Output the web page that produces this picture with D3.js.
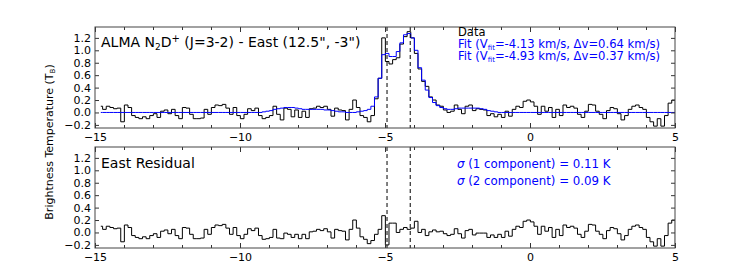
<!DOCTYPE html>
<html>
<head>
<meta charset="utf-8">
<script src="https://d3js.org/d3.v7.min.js"></script>
<style>
    body { margin: 0; background: #fff; }
    text { font-family: "DejaVu Sans", sans-serif; }
</style>
</head>
<body>
<script>
(function(){

    //channel grid of the spectrum (km/s)
    var chanStart = -14.8,
        chanWidth = 0.125;

    //observed spectrum, one value per channel (K)
    var dataT = [
        0.10, 0.05, 0.10, 0.08, 0.06, 0.07, -0.15, 0.12, 0.08, -0.05,
        -0.08, -0.10, -0.07, -0.10, -0.05, -0.02, -0.08, 0.02, 0.04, -0.02,
        0.05, -0.05, -0.10, 0.08, 0.07, -0.03, -0.10, -0.10, -0.09, 0.05,
        -0.03, 0.08, 0.12, 0.11, 0.13, 0.07, -0.03, 0.08, -0.05, -0.10,
        -0.03, 0.06, 0.03, 0.07, -0.05, -0.10, -0.08, -0.05, 0.10, -0.03,
        -0.12, 0.07, 0.05, -0.07, 0.04, -0.08, 0.02, -0.08, 0.06, 0.07,
        0.10, 0.08, 0.10, 0.05, -0.06, 0.07, 0.04, 0.03, -0.12, 0.05,
        0.20, 0.08, -0.05, -0.08, -0.15, -0.05, 0.22, 0.55, 1.20, 0.82,
        0.78, 0.85, 0.88, 1.10, 1.22, 1.30, 1.20, 0.95, 0.70, 0.50,
        0.42, 0.25, 0.20, 0.12, 0.10, 0.04, 0.00, 0.02, 0.12, 0.05,
        -0.02, 0.10, 0.12, 0.03, 0.06, 0.05, 0.04, -0.05, -0.02, -0.07,
        -0.03, -0.08, 0.02, -0.06, 0.05, 0.10, 0.08, 0.18, 0.20, 0.17,
        0.10, -0.03, 0.10, 0.02, 0.08, -0.08, 0.05, -0.05, 0.12, 0.08,
        0.10, 0.07, -0.03, -0.08, 0.02, 0.13, 0.12, 0.02, -0.03, -0.10,
        0.03, 0.08, 0.06, -0.02, -0.12, -0.05, 0.05, 0.10, 0.12, 0.08,
        0.05, -0.08, -0.15, -0.22, -0.10, -0.22, -0.05, 0.15, 0.20, -0.20
    ];

    //two component gaussian fit (with hyperfine bumps), per channel (K)
    var fitT = [
        0, 0, 0, 0, 0, 0, 0, 0, 0, 0,
        0, 0, 0, 0, 0, 0, 0, 0, 0, 0,
        0, 0, 0, 0, 0, 0, 0, 0, 0, 0,
        0, 0, 0, 0, 0, 0, 0, 0, 0, 0,
        0, 0, 0, 0, 0.00, 0.01, 0.02, 0.03, 0.05, 0.06,
        0.07, 0.08, 0.08, 0.08, 0.07, 0.06, 0.05, 0.05, 0.05, 0.05,
        0.05, 0.05, 0.04, 0.04, 0.03, 0.02, 0.01, 0.01, 0.00, 0.00,
        0.00, 0.01, 0.02, 0.03, 0.05, 0.10, 0.25, 0.55, 0.93, 0.95,
        0.90, 0.90, 0.98, 1.12, 1.25, 1.27, 1.20, 1.00, 0.72, 0.52,
        0.36, 0.24, 0.16, 0.11, 0.08, 0.06, 0.05, 0.05, 0.06, 0.07,
        0.07, 0.07, 0.07, 0.07, 0.07, 0.06, 0.05, 0.03, 0.02, 0.01,
        0, 0, 0, 0, 0, 0, 0, 0, 0, 0,
        0, 0, 0, 0, 0, 0, 0, 0, 0, 0,
        0, 0, 0, 0, 0, 0, 0, 0, 0, 0,
        0, 0, 0, 0, 0, 0, 0, 0, 0, 0,
        0, 0, 0, 0, 0, 0, 0, 0, 0, 0
    ];

    //residual after the two component fit, per channel (K)
    var residT = [
        0.10, 0.05, 0.10, 0.08, 0.06, 0.07, -0.15, 0.12, 0.08, -0.05,
        -0.08, -0.10, -0.07, -0.10, -0.05, -0.02, -0.08, 0.02, 0.04, -0.02,
        0.05, -0.05, -0.10, 0.08, 0.07, -0.03, -0.10, -0.10, -0.09, 0.05,
        -0.03, 0.08, 0.12, 0.11, 0.13, 0.07, -0.03, 0.08, -0.05, -0.10,
        -0.03, 0.06, 0.03, 0.07, -0.05, -0.11, -0.10, -0.08, 0.05, -0.09,
        -0.10, -0.01, -0.03, -0.08, -0.03, -0.10, -0.03, -0.10, 0.01, 0.02,
        0.05, 0.03, 0.06, 0.01, -0.09, 0.05, 0.03, 0.02, -0.12, 0.05,
        0.20, 0.07, -0.07, -0.11, -0.18, -0.13, -0.03, 0.05, 0.27, -0.20,
        0.15, 0.15, 0.00, 0.05, 0.08, 0.05, 0.07, 0.18, 0.00, 0.05,
        -0.05, 0.01, 0.04, 0.01, 0.02, -0.02, -0.05, -0.03, 0.06, -0.02,
        -0.09, 0.03, 0.05, -0.04, -0.01, -0.01, -0.01, -0.08, -0.04, -0.08,
        -0.03, -0.08, 0.02, -0.06, 0.05, 0.10, 0.08, 0.18, 0.20, 0.17,
        0.10, -0.03, 0.10, 0.02, 0.08, -0.08, 0.05, -0.05, 0.12, 0.08,
        0.10, 0.07, -0.03, -0.08, 0.02, 0.13, 0.12, 0.02, -0.03, -0.10,
        0.03, 0.08, 0.06, -0.02, -0.12, -0.05, 0.05, 0.10, 0.12, 0.08,
        0.05, -0.08, -0.15, -0.22, -0.10, -0.22, -0.05, 0.15, 0.20, -0.20
    ];

    //fitted line centres (km/s)
    var fitCentres = [-4.93, -4.13];

    //tick values
    var xTicks = [-15, -10, -5, 0, 5];
    var xMinorTicks = [-14, -13, -12, -11, -9, -8, -7, -6, -4, -3, -2, -1, 1, 2, 3, 4];
    var yTicks = [-0.2, 0.0, 0.2, 0.4, 0.6, 0.8, 1.0, 1.2];

    //legend and annotation texts
    var legendFits = [
        {v: "-4.13", dv: "0.64"},
        {v: "-4.93", dv: "0.37"}
    ];
    var sigmaLines = ["(1 component) = 0.11 K", "(2 component) = 0.09 K"];

    //frame dimensions
    var width = 750,
        height = 277,
        left = 95,
        right = 675,
        panelH = 101,
        panelTops = [27, 147];

    var svg = d3.select("body")
        .append("svg")
        .attr("width", width)
        .attr("height", height);

    var x = d3.scaleLinear()
        .domain([-15, 5])
        .range([left, right]);

    //velocity of each channel
    function chanV(i){
        return chanStart + i * chanWidth;
    };

    //draw one panel with its axes and step spectra
    function setPanel(top, series){
        var y = d3.scaleLinear()
            .domain([-0.25, 1.375])
            .range([top + panelH, top]);

        var g = svg.append("g");

        //clip the spectra to the frame
        var clipId = "clip" + top;
        svg.append("clipPath")
            .attr("id", clipId)
            .append("rect")
            .attr("x", left)
            .attr("y", top)
            .attr("width", right - left)
            .attr("height", panelH);

        var line = d3.line()
            .x(function(d, i){ return x(chanV(i)); })
            .y(function(d){ return y(d); })
            .curve(d3.curveStep);

        series.forEach(function(s){
            g.append("path")
                .datum(s.values)
                .attr("clip-path", "url(#" + clipId + ")")
                .attr("fill", "none")
                .attr("stroke", s.color)
                .attr("stroke-width", 1)
                .attr("d", line);
        });

        //dashed lines at the fitted centres
        g.selectAll(".centre")
            .data(fitCentres)
            .enter()
            .append("line")
            .attr("x1", function(d){ return x(d); })
            .attr("x2", function(d){ return x(d); })
            .attr("y1", top)
            .attr("y2", top + panelH)
            .attr("stroke", "#000")
            .attr("stroke-width", 1)
            .attr("stroke-dasharray", "4,3");

        //axes with inward ticks on all four sides
        var fmtY = function(d){ return d3.format(".1f")(d).replace("-", "−"); };
        var fmtX = function(d){ return String(d).replace("-", "−"); };

        g.append("g")
            .attr("transform", "translate(0," + (top + panelH) + ")")
            .call(d3.axisBottom(x).tickValues(xTicks).tickSize(-5).tickPadding(5).tickFormat(fmtX));
        g.append("g")
            .attr("transform", "translate(0," + (top + panelH) + ")")
            .call(d3.axisBottom(x).tickValues(xMinorTicks).tickSize(-3).tickFormat(""));
        g.append("g")
            .attr("transform", "translate(0," + top + ")")
            .call(d3.axisTop(x).tickValues(xTicks).tickSize(-5).tickFormat(""));
        g.append("g")
            .attr("transform", "translate(0," + top + ")")
            .call(d3.axisTop(x).tickValues(xMinorTicks).tickSize(-3).tickFormat(""));
        g.append("g")
            .attr("transform", "translate(" + left + ",0)")
            .call(d3.axisLeft(y).tickValues(yTicks).tickSize(-4).tickPadding(4).tickFormat(fmtY));
        g.append("g")
            .attr("transform", "translate(" + right + ",0)")
            .call(d3.axisRight(y).tickValues(yTicks).tickSize(-4).tickFormat(""));

        g.selectAll(".domain").remove();
        g.selectAll(".tick line").attr("stroke", "#333");
        g.selectAll(".tick text")
            .attr("font-size", 11)
            .attr("font-family", "DejaVu Sans")
            .attr("fill", "#000");

        //frame
        g.append("rect")
            .attr("x", left)
            .attr("y", top)
            .attr("width", right - left)
            .attr("height", panelH)
            .attr("fill", "none")
            .attr("stroke", "#444")
            .attr("stroke-width", 1);

        return g;
    };

    var topPanel = setPanel(panelTops[0], [
        {values: dataT, color: "#000"},
        {values: fitT, color: "#0000ff"}
    ]);
    var botPanel = setPanel(panelTops[1], [
        {values: residT, color: "#000"}
    ]);

    //panel titles
    var title = topPanel.append("text")
        .attr("x", 101)
        .attr("y", 47)
        .attr("font-size", 14)
        .attr("fill", "#000");
    title.append("tspan").text("ALMA N");
    title.append("tspan").attr("font-size", 9).attr("dy", 3).text("2");
    title.append("tspan").attr("dy", -3).text("D");
    title.append("tspan").attr("font-size", 10).attr("dy", -5).text("+");
    title.append("tspan").attr("dy", 5).text("  (J=3-2) - East (12.5\", -3\")");

    botPanel.append("text")
        .attr("x", 101)
        .attr("y", 168)
        .attr("font-size", 14)
        .attr("fill", "#000")
        .text("East Residual");

    //legend
    topPanel.append("text")
        .attr("x", 458)
        .attr("y", 35.5)
        .attr("font-size", 11.5)
        .attr("fill", "#000")
        .text("Data");

    var fitTexts = topPanel.selectAll(".fitText")
        .data(legendFits)
        .enter()
        .append("text")
        .attr("x", 458)
        .attr("y", function(d, i){ return 47.5 + i * 12; })
        .attr("font-size", 11.6)
        .attr("fill", "#0000ff");
    fitTexts.append("tspan").text("Fit (V");
    fitTexts.append("tspan").attr("font-size", 7).attr("dy", 2).text("fit");
    fitTexts.append("tspan").attr("dy", -2).text(function(d){ return "=" + d.v + " km/s, Δv=" + d.dv + " km/s)"; });

    //residual sigmas
    var sig = botPanel.selectAll(".sigma")
        .data(sigmaLines)
        .enter()
        .append("text")
        .attr("x", 457)
        .attr("y", function(d, i){ return 167.5 + i * 17; })
        .attr("font-size", 11.8)
        .attr("fill", "#0000ff");
    sig.append("tspan").attr("font-style", "italic").text("σ ");
    sig.append("tspan").text(function(d){ return d; });

    //shared y axis label
    var yLabel = svg.append("text")
        .attr("transform", "translate(53,142) rotate(-90)")
        .attr("text-anchor", "middle")
        .attr("font-size", 11)
        .attr("fill", "#000");
    yLabel.append("tspan").text("Brightness Temperature (T");
    yLabel.append("tspan").attr("font-size", 7).attr("dy", 2).text("B");
    yLabel.append("tspan").attr("dy", -2).text(")");

})();
</script>
</body>
</html>
